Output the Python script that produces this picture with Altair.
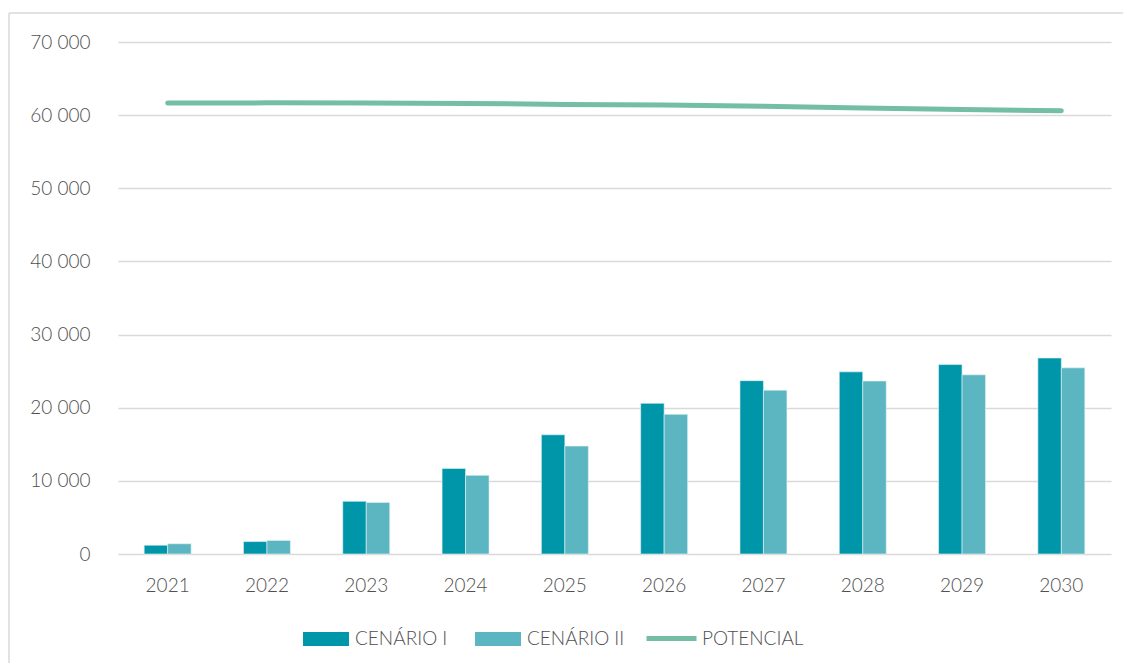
import altair as alt
import pandas as pd

years = ["2021", "2022", "2023", "2024", "2025", "2026", "2027", "2028", "2029", "2030"]
cenario1 = [1200, 1700, 7200, 11700, 16300, 20600, 23700, 24900, 25900, 26800]
cenario2 = [1400, 1850, 7050, 10750, 14750, 19100, 22400, 23650, 24500, 25450]
potencial = [61650, 61680, 61650, 61600, 61470, 61380, 61200, 60970, 60780, 60600]

series_names = ["CENÁRIO I", "CENÁRIO II"]
line_name = "POTENCIAL"

bars_df = pd.DataFrame(
    [{"ano": y, "serie": series_names[0], "valor": v} for y, v in zip(years, cenario1)]
    + [{"ano": y, "serie": series_names[1], "valor": v} for y, v in zip(years, cenario2)]
)
line_df = pd.DataFrame({"ano": years, "serie": [line_name] * len(years), "valor": potencial})

FONT = "Lato"
WEIGHT = 300
TXT = "#505050"
GRID = "#d9d9d9"

x_enc = alt.X(
    "ano:N",
    sort=years,
    scale=alt.Scale(paddingInner=0.527, paddingOuter=0.2635),
    axis=alt.Axis(
        title=None, labelAngle=0, ticks=False, domain=False, grid=False,
        labelFont=FONT, labelFontSize=19, labelFontWeight=WEIGHT, labelColor=TXT,
        labelPadding=31, labelBaseline="middle",
    ),
)

y_enc = alt.Y(
    "valor:Q",
    scale=alt.Scale(domain=[0, 70000], nice=False),
    axis=alt.Axis(
        title=None, values=[0, 10000, 20000, 30000, 40000, 50000, 60000, 70000],
        labelExpr="replace(format(datum.value, ','), ',', ' ')",
        ticks=False, domain=False, grid=True, gridColor=GRID, gridWidth=1.5,
        labelFont=FONT, labelFontSize=19, labelFontWeight=WEIGHT, labelColor=TXT,
        labelPadding=28,
    ),
)

bars = alt.Chart(bars_df).mark_bar(stroke="#e6f4f5", strokeWidth=0.6).encode(
    x=x_enc,
    xOffset=alt.XOffset("serie:N", sort=series_names, scale=alt.Scale(paddingInner=0, paddingOuter=0)),
    y=y_enc,
    color=alt.Color(
        "serie:N",
        sort=series_names,
        scale=alt.Scale(domain=series_names, range=["#0096A9", "#5BB6C1"]),
        legend=alt.Legend(
            title=None, orient="none", legendX=185, legendY=574, direction="horizontal",
            symbolType="M-1,-0.3H1V0.3H-1Z", symbolSize=2116, symbolStrokeWidth=0,
            symbolOpacity=1, labelFont=FONT, labelFontSize=19, labelFontWeight=WEIGHT,
            labelColor=TXT, labelOffset=6, columnPadding=27,
        ),
    ),
)

line = alt.Chart(line_df).mark_line(strokeWidth=5, strokeCap="round", strokeJoin="round").encode(
    x=alt.X("ano:N", sort=years),
    y=alt.Y("valor:Q"),
    color=alt.Color(
        "serie:N",
        scale=alt.Scale(domain=[line_name], range=["#74BEA5"]),
        legend=alt.Legend(
            title=None, orient="none", legendX=526, legendY=569, direction="horizontal",
            symbolType="stroke", symbolSize=2500, symbolStrokeWidth=5,
            labelFont=FONT, labelFontSize=19, labelFontWeight=WEIGHT,
            labelColor=TXT, labelOffset=3,
        ),
    ),
)

frame_df = pd.DataFrame({"k": [0]})
left_border = alt.Chart(frame_df).mark_rule(color=GRID, strokeWidth=1.5).encode(
    x=alt.value(-109), y=alt.value(-29), y2=alt.value(640)
)
top_border = alt.Chart(frame_df).mark_rule(color=GRID, strokeWidth=1.5).encode(
    x=alt.value(-109), x2=alt.value(1020), y=alt.value(-29)
)

chart = (
    alt.layer(bars, line, left_border, top_border)
    .resolve_scale(color="independent")
    .properties(
        width=993, height=512,
        background="white",
        autosize=alt.AutoSizeParams(type="none"),
        padding={"left": 110, "top": 34, "right": 12, "bottom": 109},
    )
    .configure_view(stroke=None)
)

chart.save("out.html", embed_options={"renderer": "svg", "actions": False})
